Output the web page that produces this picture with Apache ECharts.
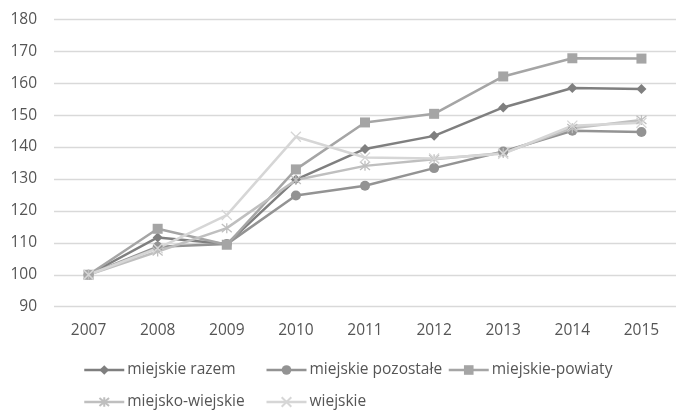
<!DOCTYPE html>
<html>
<head>
<meta charset="utf-8">
<script src="https://cdn.jsdelivr.net/npm/echarts@6/dist/echarts.min.js"></script>
<style>
html,body{margin:0;padding:0;background:#fff;}
#chart{width:676px;height:411px;}
</style>
</head>
<body>
<div id="chart"></div>
<script>
const years = ['2007','2008','2009','2010','2011','2012','2013','2014','2015'];
const miejskieRazem = [100, 111.7, 109.6, 129.8, 139.4, 143.5, 152.4, 158.5, 158.2];
const miejskiePozostale = [100, 108.8, 109.6, 124.8, 127.9, 133.4, 138.6, 145.1, 144.7];
const miejskiePowiaty = [100, 114.4, 109.4, 133.0, 147.7, 150.4, 162.1, 167.8, 167.7];
const miejskoWiejskie = [100, 107.3, 114.6, 129.7, 134.1, 136.2, 138.1, 145.9, 148.5];
const wiejskie = [100, 108.3, 118.7, 143.2, 136.7, 136.4, 137.9, 146.7, 147.6];
const yTicks = {min: 90, max: 180, interval: 10};

const FONT = '"Open Sans", "Noto Sans", sans-serif';
const TXT = '#555555';
const asterisk = 'path://M0,0L10,10M10,0L0,10M5,-1L5,11';
const cross = 'path://M0,0L10,10M10,0L0,10';

function lineSeries(name, data, color, symbol, size, stroke) {
  const s = {
    name, type: 'line', data,
    symbol, symbolSize: size,
    lineStyle: {color, width: 2.5},
    itemStyle: {color},
    emphasis: {disabled: true},
    animation: false
  };
  if (stroke) {
    s.itemStyle = {color: 'rgba(0,0,0,0)', borderColor: color, borderWidth: 1.3};
  }
  return s;
}

const chart = echarts.init(document.getElementById('chart'), null, {renderer: 'canvas'});
chart.setOption({
  backgroundColor: '#ffffff',
  animation: false,
  textStyle: {fontFamily: FONT},
  grid: {left: 54, right: -8, top: 19.3, bottom: 104.3, containLabel: false},
  xAxis: {
    type: 'category', data: years, boundaryGap: true,
    axisLine: {show: false}, axisTick: {show: false},
    axisLabel: {color: TXT, fontSize: 15.5, fontFamily: FONT, margin: 16}
  },
  yAxis: {
    type: 'value', min: yTicks.min, max: yTicks.max, interval: yTicks.interval,
    axisLine: {show: false}, axisTick: {show: false},
    axisLabel: {color: TXT, fontSize: 15.5, fontFamily: FONT, margin: 17},
    splitLine: {lineStyle: {color: '#d9d9d9', width: 1.3}}
  },
  legend: {
    left: 83, top: 354, width: 560, padding: 0,
    orient: 'horizontal',
    itemWidth: 40, itemHeight: 12, itemGap: 0,
    lineStyle: {width: 2.5},
    textStyle: {color: TXT, fontSize: 15.5, fontFamily: FONT, width: 138, lineHeight: 32, padding: [0, 0, 0, -2]},
    data: ['miejskie razem','miejskie pozostałe','miejskie-powiaty','miejsko-wiejskie','wiejskie']
  },
  series: [
    lineSeries('miejskie razem', miejskieRazem, '#7f7f7f', 'diamond', [10, 10]),
    lineSeries('miejskie pozostałe', miejskiePozostale, '#939393', 'circle', 10),
    lineSeries('miejskie-powiaty', miejskiePowiaty, '#a5a5a5', 'rect', 10),
    lineSeries('miejsko-wiejskie', miejskoWiejskie, '#bfbfbf', asterisk, 10, true),
    lineSeries('wiejskie', wiejskie, '#d6d6d6', cross, 10, true)
  ]
});
</script>
</body>
</html>
